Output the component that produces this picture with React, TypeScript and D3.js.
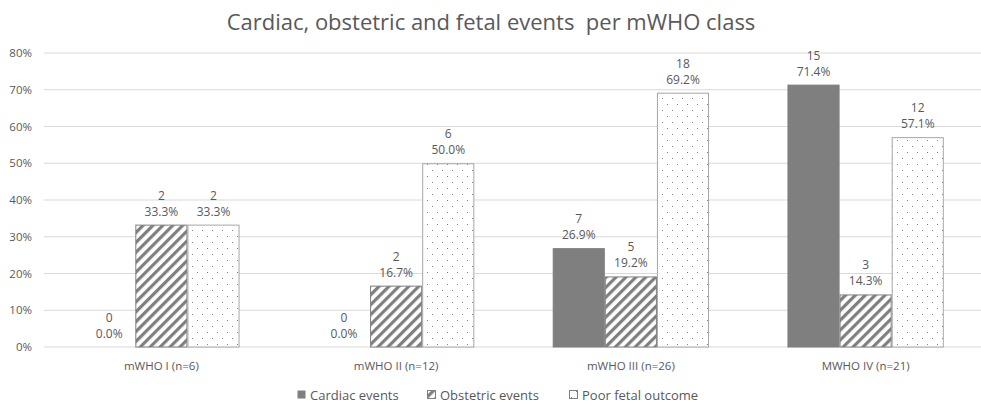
import { useEffect, useRef } from 'react';
import * as d3 from 'd3';

const categories = ['mWHO I (n=6)', 'mWHO II (n=12)', 'mWHO III (n=26)', 'MWHO IV (n=21)'];
const seriesNames = ['Cardiac events', 'Obstetric events', 'Poor fetal outcome'];
const cardiacCounts = [0, 0, 7, 15];
const cardiacPct = [0, 0, 26.9, 71.4];
const obstetricCounts = [2, 2, 5, 3];
const obstetricPct = [33.3, 16.7, 19.2, 14.3];
const fetalCounts = [2, 6, 18, 12];
const fetalPct = [33.3, 50.0, 69.2, 57.1];
const yTicks = [0, 10, 20, 30, 40, 50, 60, 70, 80];

const width = 981;
const height = 404;
const font = '"Open Sans", "Noto Sans", sans-serif';
const textColor = '#595959';

export default function App() {
	const svgRef = useRef<SVGSVGElement>(null);

	useEffect(() => {
		if (!svgRef.current) return;
		const svg = d3.select(svgRef.current);
		svg.selectAll('*').remove();

		const defs = svg.append('defs');
		const hatch = defs
			.append('pattern')
			.attr('id', 'hatch')
			.attr('patternUnits', 'userSpaceOnUse')
			.attr('width', 7)
			.attr('height', 7)
			.attr('patternTransform', 'rotate(45)');
		hatch.append('rect').attr('width', 7).attr('height', 7).attr('fill', '#fff');
		hatch.append('rect').attr('width', 3.2).attr('height', 7).attr('fill', '#7f7f7f');

		const dots = defs
			.append('pattern')
			.attr('id', 'dots')
			.attr('patternUnits', 'userSpaceOnUse')
			.attr('width', 10)
			.attr('height', 12);
		dots.append('rect').attr('width', 10).attr('height', 12).attr('fill', '#fff');
		dots.append('rect').attr('x', 2).attr('y', 2).attr('width', 1).attr('height', 1).attr('fill', '#808080');
		dots.append('rect').attr('x', 7).attr('y', 8).attr('width', 1).attr('height', 1).attr('fill', '#808080');

		const x = d3.scaleBand<string>().domain(categories).range([44, 983]);
		const y = d3.scaleLinear().domain([0, 80]).range([347, 53]);

		// title
		svg
			.append('text')
			.attr('x', 491)
			.attr('y', 30)
			.attr('text-anchor', 'middle')
			.attr('font-family', font)
			.attr('font-size', 22)
			.attr('fill', textColor)
			.text('Cardiac, obstetric and fetal events  per mWHO class')
			.style('white-space', 'pre');

		// grid
		const grid = svg.append('g');
		yTicks.forEach((t) => {
			grid
				.append('line')
				.attr('x1', 44)
				.attr('x2', width)
				.attr('y1', y(t))
				.attr('y2', y(t))
				.attr('stroke', '#d9d9d9')
				.attr('stroke-width', 1);
			grid
				.append('text')
				.attr('x', 32)
				.attr('y', y(t))
				.attr('dy', '0.35em')
				.attr('text-anchor', 'end')
				.attr('font-family', font)
				.attr('font-size', 11.5)
				.attr('fill', textColor)
				.text(`${t}%`);
		});

		const series = [
			{ counts: cardiacCounts, pct: cardiacPct, fill: '#7f7f7f', stroke: '#7f7f7f' },
			{ counts: obstetricCounts, pct: obstetricPct, fill: 'url(#hatch)', stroke: '#7f7f7f' },
			{ counts: fetalCounts, pct: fetalPct, fill: 'url(#dots)', stroke: '#a6a6a6' },
		];

		const barW = x.bandwidth() * 0.222;

		series.forEach((s, si) => {
			const g = svg.append('g');
			categories.forEach((c, ci) => {
				const cx = x(c)! + x.bandwidth() / 2 + (si - 1) * barW;
				const top = y(s.pct[ci]);
				if (s.pct[ci] > 0) {
					g.append('rect')
						.attr('x', cx - barW / 2 + 0.5)
						.attr('y', top + 0.5)
						.attr('width', barW - 1)
						.attr('height', y(0) - top - 0.5)
						.attr('fill', s.fill)
						.attr('stroke', s.stroke)
						.attr('stroke-width', 1);
				}
				g.append('text')
					.attr('x', cx)
					.attr('y', top - 9)
					.attr('text-anchor', 'middle')
					.attr('font-family', font)
					.attr('font-size', 12)
					.attr('fill', textColor)
					.text(`${s.pct[ci].toFixed(1)}%`);
				g.append('text')
					.attr('x', cx)
					.attr('y', top - 25)
					.attr('text-anchor', 'middle')
					.attr('font-family', font)
					.attr('font-size', 12)
					.attr('fill', textColor)
					.text(`${s.counts[ci]}`);
			});
		});

		// category labels
		categories.forEach((c) => {
			svg
				.append('text')
				.attr('x', x(c)! + x.bandwidth() / 2)
				.attr('y', 370)
				.attr('text-anchor', 'middle')
				.attr('font-family', font)
				.attr('font-size', 11.5)
				.attr('fill', textColor)
				.text(c);
		});

		// legend
		const legendX = [297, 427, 569];
		const legendFill = ['#7f7f7f', 'url(#hatch)', 'url(#dots)'];
		seriesNames.forEach((name, i) => {
			const lg = svg.append('g').attr('transform', `translate(${legendX[i]},395)`);
			lg.append('rect')
				.attr('x', 0.5)
				.attr('y', -4.5)
				.attr('width', 8)
				.attr('height', 8)
				.attr('fill', legendFill[i])
				.attr('stroke', i === 0 ? 'none' : '#7f7f7f')
				.attr('stroke-width', 1);
			lg.append('text')
				.attr('x', 13)
				.attr('y', 0)
				.attr('dy', '0.35em')
				.attr('font-family', font)
				.attr('font-size', 13)
				.attr('fill', textColor)
				.text(name);
		});
	}, []);

	return (
		<div
			style={{
				position: 'fixed',
				left: 0,
				top: 0,
				width,
				height,
				overflow: 'hidden',
				background: '#fff',
			}}
		>
			<svg ref={svgRef} width={width} height={height} style={{ display: 'block' }} />
		</div>
	);
}
